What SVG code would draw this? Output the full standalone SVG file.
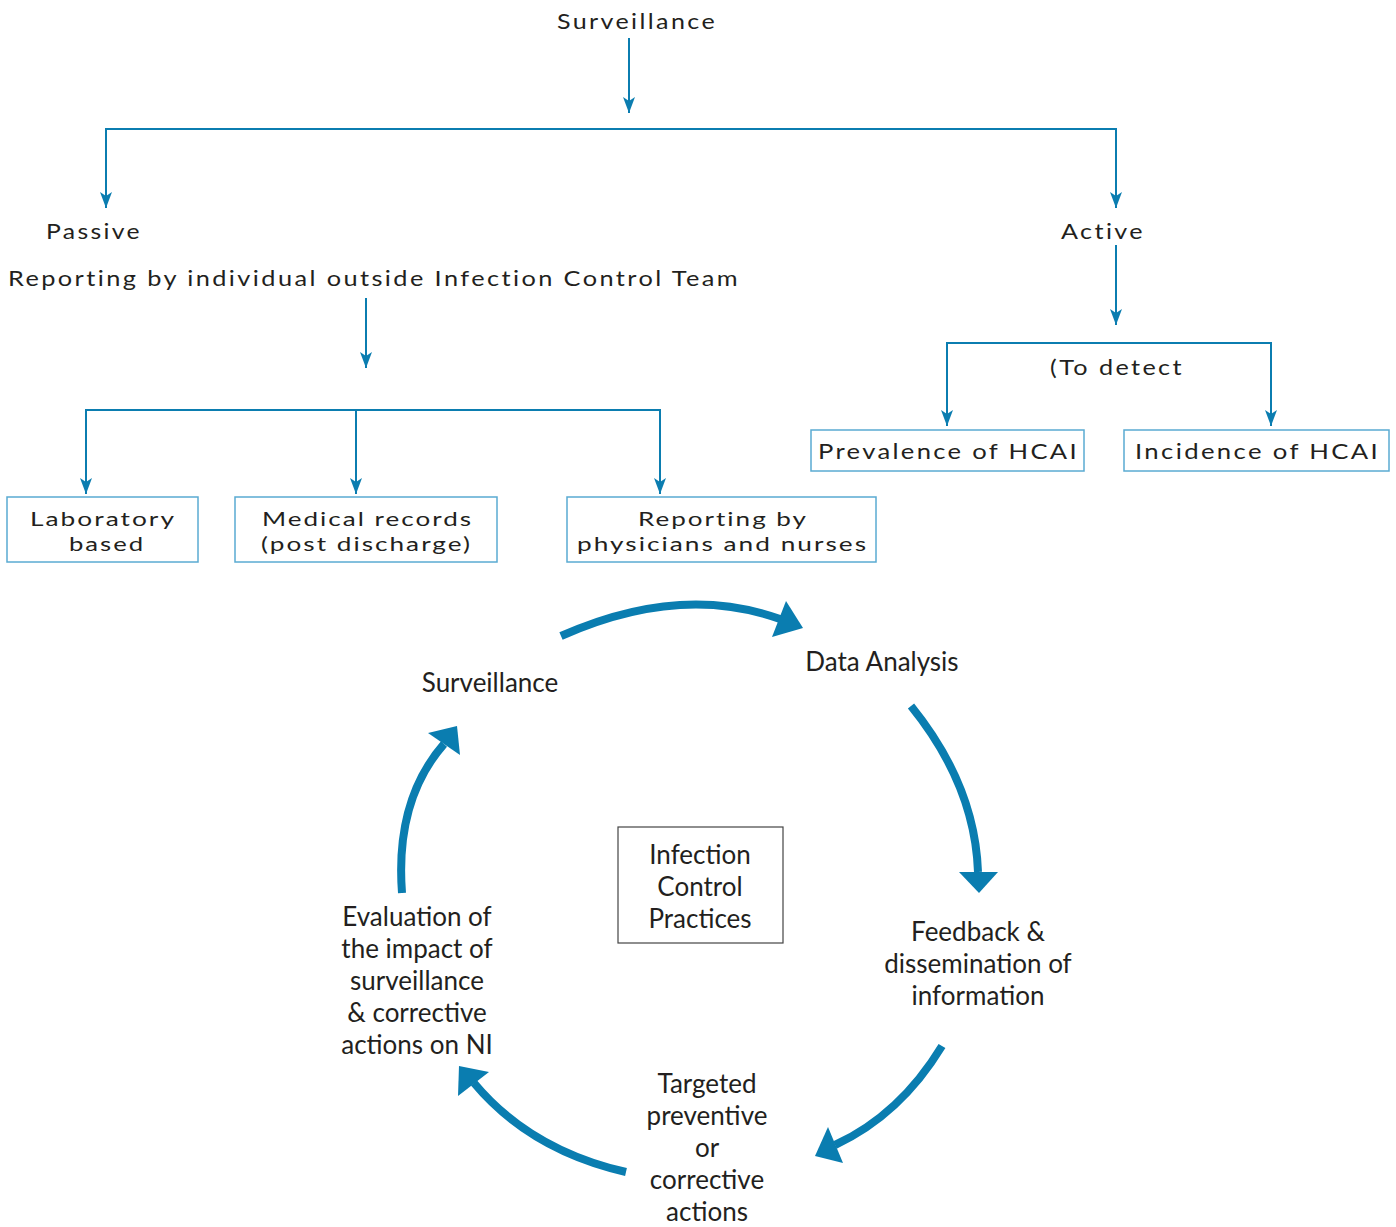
<svg xmlns="http://www.w3.org/2000/svg" width="1396" height="1227" viewBox="0 0 1396 1227">
<style>
.t{font-family:Lato,"Open Sans","Liberation Sans",sans-serif;fill:#231f20}
.s{font-size:21px;letter-spacing:2px}
.b{font-size:19.5px;letter-spacing:1.5px}
.p{font-size:22px;letter-spacing:2px}
.c{font-size:26px;text-anchor:middle}
.con{fill:none;stroke:#0b7db0;stroke-width:2}
.box{fill:#fff;stroke:#5aabd2;stroke-width:1.5}
.cyc{fill:none;stroke:#0a7db0;stroke-width:8}
.head{fill:#0a7db0}
</style>
<defs>
<marker id="ah" viewBox="0 0 16 12" refX="16" refY="6" markerWidth="16" markerHeight="12" markerUnits="userSpaceOnUse" orient="auto">
<path d="M0,0 L16,6 L0,12 L4,6 z" fill="#0b7db0"/>
</marker>
</defs>
<rect width="1396" height="1227" fill="#fff"/>
<g id="connectors">
<path class="con" d="M629,38 V113" marker-end="url(#ah)"/>
<path class="con" d="M106,208 V129 H1116 V208" marker-end="url(#ah)"/>
<path class="con" d="M106,129 V208" marker-end="url(#ah)"/>
<path class="con" d="M366,298 V368" marker-end="url(#ah)"/>
<path class="con" d="M86,494 V410 H660 V494" marker-end="url(#ah)"/>
<path class="con" d="M86,410 V494" marker-end="url(#ah)"/>
<path class="con" d="M356,410 V494" marker-end="url(#ah)"/>
<path class="con" d="M1116,245 V325" marker-end="url(#ah)"/>
<path class="con" d="M947,426 V343 H1271 V426" marker-end="url(#ah)"/>
<path class="con" d="M947,343 V426" marker-end="url(#ah)"/>
<path class="cyc" d="M561,636 Q680,583 780,619"/>
<polygon class="head" points="786,601 803,628 772,637"/>
<path class="cyc" d="M911,706 Q975,785 978,872"/>
<polygon class="head" points="959,872 998,872 979,893"/>
<path class="cyc" d="M942,1046 Q900,1115 835,1145"/>
<polygon class="head" points="828,1127 843,1163 815,1156"/>
<path class="cyc" d="M626,1172 Q530,1150 474,1083"/>
<polygon class="head" points="458,1096 459,1066 489,1072"/>
<path class="cyc" d="M402,893 Q395,800 444,744"/>
<polygon class="head" points="428,733 457,726 460,755"/>
</g>
<g id="n-surveillance-top"><text class="t s" x="557" y="29" textLength="160" lengthAdjust="spacingAndGlyphs">Surveillance</text></g>
<g id="n-passive"><text class="t s" x="46" y="239" textLength="96" lengthAdjust="spacingAndGlyphs">Passive</text></g>
<g id="n-reporting-outside"><text class="t s" x="8" y="286" textLength="732" lengthAdjust="spacingAndGlyphs">Reporting by individual outside Infection Control Team</text></g>
<g id="n-active"><text class="t s" x="1061" y="239" textLength="84" lengthAdjust="spacingAndGlyphs">Active</text></g>
<g id="n-todetect"><text class="t s" x="1050" y="375" textLength="134" lengthAdjust="spacingAndGlyphs">(To detect</text></g>
<g id="n-prevalence"><rect class="box" x="811" y="430" width="273" height="41"/><text class="t p" x="818" y="459" textLength="261" lengthAdjust="spacingAndGlyphs">Prevalence of HCAI</text></g>
<g id="n-incidence"><rect class="box" x="1124" y="430" width="265" height="41"/><text class="t p" x="1135" y="459" textLength="245" lengthAdjust="spacingAndGlyphs">Incidence of HCAI</text></g>
<g id="n-lab"><rect class="box" x="7" y="497" width="191" height="65"/><text class="t b" x="30" y="526" textLength="146" lengthAdjust="spacingAndGlyphs">Laboratory</text><text class="t b" x="69" y="551" textLength="76" lengthAdjust="spacingAndGlyphs">based</text></g>
<g id="n-medical"><rect class="box" x="235" y="497" width="262" height="65"/><text class="t b" x="262" y="526" textLength="211" lengthAdjust="spacingAndGlyphs">Medical records</text><text class="t b" x="261" y="551" textLength="211" lengthAdjust="spacingAndGlyphs">(post discharge)</text></g>
<g id="n-physicians"><rect class="box" x="567" y="497" width="309" height="65"/><text class="t b" x="638" y="526" textLength="170" lengthAdjust="spacingAndGlyphs">Reporting by</text><text class="t b" x="577" y="551" textLength="291" lengthAdjust="spacingAndGlyphs">physicians and nurses</text></g>
<g id="n-surveillance"><text class="t c" x="490" y="692">Surveillance</text></g>
<g id="n-data"><text class="t c" x="882" y="671">Data Analysis</text></g>
<g id="n-icp"><rect x="618" y="827" width="165" height="116" fill="#fff" stroke="#444" stroke-width="1.2"/><text class="t c" x="700" y="864">Infection</text><text class="t c" x="700" y="896">Control</text><text class="t c" x="700" y="928">Practices</text></g>
<g id="n-feedback"><text class="t c" x="978" y="941">Feedback &amp;</text><text class="t c" x="978" y="973">dissemination of</text><text class="t c" x="978" y="1005">information</text></g>
<g id="n-targeted"><text class="t c" x="707" y="1093">Targeted</text><text class="t c" x="707" y="1125">preventive</text><text class="t c" x="707" y="1157">or</text><text class="t c" x="707" y="1189">corrective</text><text class="t c" x="707" y="1221">actions</text></g>
<g id="n-evaluation"><text class="t c" x="417" y="926">Evaluation of</text><text class="t c" x="417" y="958">the impact of</text><text class="t c" x="417" y="990">surveillance</text><text class="t c" x="417" y="1022">&amp; corrective</text><text class="t c" x="417" y="1054">actions on NI</text></g>
</svg>
